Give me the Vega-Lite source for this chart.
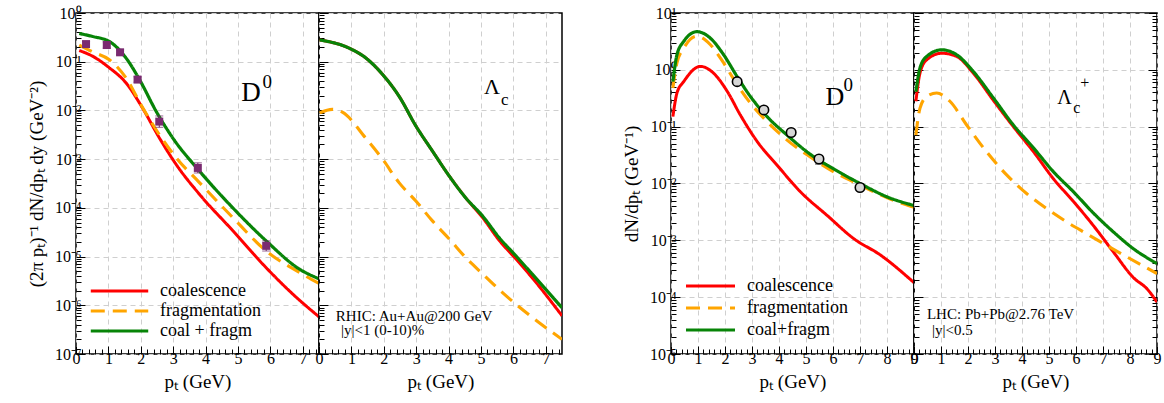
{
"$schema": "https://vega.github.io/schema/vega-lite/v6.json",
"background": "white",
"padding": {"left": 26, "top": 4, "right": 0, "bottom": 5},
"config": {
  "font": "Liberation Serif",
  "view": {"stroke": "black", "strokeWidth": 1.5},
  "axis": {"labelFont": "Liberation Serif", "titleFont": "Liberation Serif", "labelFontSize": 16, "titleFontSize": 19, "titleFontWeight": "normal", "labelColor": "black", "titleColor": "black", "tickColor": "black", "tickWidth": 1, "domain": false, "gridDash": [5, 4], "gridColor": "#cfcfcf", "gridWidth": 1, "labelOverlap": false, "labelBound": false, "labelFlush": false, "tickCount": 200},
  "legend": {"labelFont": "Liberation Serif", "labelFontSize": 18, "labelColor": "black", "symbolType": "stroke", "labelOffset": 10, "padding": 0, "orient": "bottom-left", "offset": 13, "title": null},
  "text": {"font": "Liberation Serif", "color": "black"}
},
"datasets": {
  "curves": [
    {"panel": "p1", "series": "coalescence", "pt": 0.1, "v": 0.17},
    {"panel": "p1", "series": "coalescence", "pt": 0.51, "v": 0.13},
    {"panel": "p1", "series": "coalescence", "pt": 1.03, "v": 0.075},
    {"panel": "p1", "series": "coalescence", "pt": 1.54, "v": 0.037},
    {"panel": "p1", "series": "coalescence", "pt": 2.06, "v": 0.011},
    {"panel": "p1", "series": "coalescence", "pt": 2.57, "v": 0.00275},
    {"panel": "p1", "series": "coalescence", "pt": 3.09, "v": 0.00078},
    {"panel": "p1", "series": "coalescence", "pt": 3.81, "v": 0.00019},
    {"panel": "p1", "series": "coalescence", "pt": 4.84, "v": 0.000034},
    {"panel": "p1", "series": "coalescence", "pt": 5.87, "v": 0.0000059},
    {"panel": "p1", "series": "coalescence", "pt": 6.69, "v": 0.0000017},
    {"panel": "p1", "series": "coalescence", "pt": 7.5, "v": 0.00000058},
    {"panel": "p1", "series": "fragmentation", "pt": 0.1, "v": 0.22},
    {"panel": "p1", "series": "fragmentation", "pt": 0.51, "v": 0.16},
    {"panel": "p1", "series": "fragmentation", "pt": 1.03, "v": 0.11},
    {"panel": "p1", "series": "fragmentation", "pt": 1.54, "v": 0.047},
    {"panel": "p1", "series": "fragmentation", "pt": 2.06, "v": 0.0113},
    {"panel": "p1", "series": "fragmentation", "pt": 2.57, "v": 0.0032},
    {"panel": "p1", "series": "fragmentation", "pt": 3.09, "v": 0.00107},
    {"panel": "p1", "series": "fragmentation", "pt": 3.81, "v": 0.00033},
    {"panel": "p1", "series": "fragmentation", "pt": 4.84, "v": 0.000063},
    {"panel": "p1", "series": "fragmentation", "pt": 5.87, "v": 0.000013},
    {"panel": "p1", "series": "fragmentation", "pt": 6.9, "v": 0.0000047},
    {"panel": "p1", "series": "fragmentation", "pt": 7.5, "v": 0.0000028},
    {"panel": "p1", "series": "coal+fragm", "pt": 0.1, "v": 0.38},
    {"panel": "p1", "series": "coal+fragm", "pt": 0.51, "v": 0.33},
    {"panel": "p1", "series": "coal+fragm", "pt": 1.03, "v": 0.26},
    {"panel": "p1", "series": "coal+fragm", "pt": 1.54, "v": 0.12},
    {"panel": "p1", "series": "coal+fragm", "pt": 1.96, "v": 0.043},
    {"panel": "p1", "series": "coal+fragm", "pt": 2.47, "v": 0.0097},
    {"panel": "p1", "series": "coal+fragm", "pt": 2.99, "v": 0.0027},
    {"panel": "p1", "series": "coal+fragm", "pt": 3.81, "v": 0.00057},
    {"panel": "p1", "series": "coal+fragm", "pt": 4.84, "v": 0.0001},
    {"panel": "p1", "series": "coal+fragm", "pt": 5.87, "v": 0.000021},
    {"panel": "p1", "series": "coal+fragm", "pt": 6.9, "v": 0.0000055},
    {"panel": "p1", "series": "coal+fragm", "pt": 7.5, "v": 0.0000035},

    {"panel": "p2", "series": "coalescence", "pt": 0.02, "v": 0.28},
    {"panel": "p2", "series": "coalescence", "pt": 0.93, "v": 0.19},
    {"panel": "p2", "series": "coalescence", "pt": 1.44, "v": 0.12},
    {"panel": "p2", "series": "coalescence", "pt": 1.96, "v": 0.055},
    {"panel": "p2", "series": "coalescence", "pt": 2.47, "v": 0.0196},
    {"panel": "p2", "series": "coalescence", "pt": 2.99, "v": 0.0048},
    {"panel": "p2", "series": "coalescence", "pt": 3.5, "v": 0.00147},
    {"panel": "p2", "series": "coalescence", "pt": 4.02, "v": 0.00045},
    {"panel": "p2", "series": "coalescence", "pt": 4.53, "v": 0.00016},
    {"panel": "p2", "series": "coalescence", "pt": 5.05, "v": 0.000063},
    {"panel": "p2", "series": "coalescence", "pt": 5.56, "v": 0.0000216},
    {"panel": "p2", "series": "coalescence", "pt": 6.08, "v": 0.0000089},
    {"panel": "p2", "series": "coalescence", "pt": 6.59, "v": 0.0000036},
    {"panel": "p2", "series": "coalescence", "pt": 7.5, "v": 0.00000061},
    {"panel": "p2", "series": "fragmentation", "pt": 0.02, "v": 0.0089},
    {"panel": "p2", "series": "fragmentation", "pt": 0.41, "v": 0.0105},
    {"panel": "p2", "series": "fragmentation", "pt": 0.72, "v": 0.0092},
    {"panel": "p2", "series": "fragmentation", "pt": 1.44, "v": 0.0027},
    {"panel": "p2", "series": "fragmentation", "pt": 1.96, "v": 0.001},
    {"panel": "p2", "series": "fragmentation", "pt": 2.47, "v": 0.00033},
    {"panel": "p2", "series": "fragmentation", "pt": 2.99, "v": 0.000138},
    {"panel": "p2", "series": "fragmentation", "pt": 3.5, "v": 0.000054},
    {"panel": "p2", "series": "fragmentation", "pt": 4.02, "v": 0.000023},
    {"panel": "p2", "series": "fragmentation", "pt": 4.53, "v": 0.0000095},
    {"panel": "p2", "series": "fragmentation", "pt": 5.05, "v": 0.0000044},
    {"panel": "p2", "series": "fragmentation", "pt": 5.56, "v": 0.0000021},
    {"panel": "p2", "series": "fragmentation", "pt": 6.08, "v": 0.00000105},
    {"panel": "p2", "series": "fragmentation", "pt": 6.59, "v": 0.00000056},
    {"panel": "p2", "series": "fragmentation", "pt": 7.5, "v": 0.0000002},
    {"panel": "p2", "series": "coal+fragm", "pt": 0.02, "v": 0.28},
    {"panel": "p2", "series": "coal+fragm", "pt": 0.93, "v": 0.19},
    {"panel": "p2", "series": "coal+fragm", "pt": 1.44, "v": 0.12},
    {"panel": "p2", "series": "coal+fragm", "pt": 1.96, "v": 0.055},
    {"panel": "p2", "series": "coal+fragm", "pt": 2.47, "v": 0.0196},
    {"panel": "p2", "series": "coal+fragm", "pt": 2.99, "v": 0.0048},
    {"panel": "p2", "series": "coal+fragm", "pt": 3.5, "v": 0.00147},
    {"panel": "p2", "series": "coal+fragm", "pt": 4.02, "v": 0.00045},
    {"panel": "p2", "series": "coal+fragm", "pt": 4.53, "v": 0.00016},
    {"panel": "p2", "series": "coal+fragm", "pt": 5.05, "v": 0.000068},
    {"panel": "p2", "series": "coal+fragm", "pt": 5.56, "v": 0.0000245},
    {"panel": "p2", "series": "coal+fragm", "pt": 6.08, "v": 0.0000103},
    {"panel": "p2", "series": "coal+fragm", "pt": 6.59, "v": 0.0000043},
    {"panel": "p2", "series": "coal+fragm", "pt": 7.5, "v": 0.00000089},

    {"panel": "p3", "series": "coalescence", "pt": 0.07, "v": 0.15},
    {"panel": "p3", "series": "coalescence", "pt": 0.22, "v": 0.39},
    {"panel": "p3", "series": "coalescence", "pt": 0.47, "v": 0.62},
    {"panel": "p3", "series": "coalescence", "pt": 1.09, "v": 1.15},
    {"panel": "p3", "series": "coalescence", "pt": 1.58, "v": 0.87},
    {"panel": "p3", "series": "coalescence", "pt": 2.08, "v": 0.42},
    {"panel": "p3", "series": "coalescence", "pt": 2.57, "v": 0.16},
    {"panel": "p3", "series": "coalescence", "pt": 3.19, "v": 0.055},
    {"panel": "p3", "series": "coalescence", "pt": 3.93, "v": 0.021},
    {"panel": "p3", "series": "coalescence", "pt": 4.8, "v": 0.0071},
    {"panel": "p3", "series": "coalescence", "pt": 5.78, "v": 0.00275},
    {"panel": "p3", "series": "coalescence", "pt": 6.77, "v": 0.00107},
    {"panel": "p3", "series": "coalescence", "pt": 7.76, "v": 0.00055},
    {"panel": "p3", "series": "coalescence", "pt": 9.0, "v": 0.00018},
    {"panel": "p3", "series": "fragmentation", "pt": 0.07, "v": 0.48},
    {"panel": "p3", "series": "fragmentation", "pt": 0.22, "v": 1.32},
    {"panel": "p3", "series": "fragmentation", "pt": 0.47, "v": 2.4},
    {"panel": "p3", "series": "fragmentation", "pt": 0.96, "v": 3.9},
    {"panel": "p3", "series": "fragmentation", "pt": 1.46, "v": 2.76},
    {"panel": "p3", "series": "fragmentation", "pt": 1.95, "v": 1.32},
    {"panel": "p3", "series": "fragmentation", "pt": 2.45, "v": 0.55},
    {"panel": "p3", "series": "fragmentation", "pt": 2.94, "v": 0.26},
    {"panel": "p3", "series": "fragmentation", "pt": 3.56, "v": 0.123},
    {"panel": "p3", "series": "fragmentation", "pt": 4.3, "v": 0.058},
    {"panel": "p3", "series": "fragmentation", "pt": 5.04, "v": 0.032},
    {"panel": "p3", "series": "fragmentation", "pt": 6.03, "v": 0.016},
    {"panel": "p3", "series": "fragmentation", "pt": 7.02, "v": 0.0093},
    {"panel": "p3", "series": "fragmentation", "pt": 8.01, "v": 0.0056},
    {"panel": "p3", "series": "fragmentation", "pt": 9.0, "v": 0.0038},
    {"panel": "p3", "series": "coal+fragm", "pt": 0.07, "v": 0.62},
    {"panel": "p3", "series": "coal+fragm", "pt": 0.22, "v": 1.84},
    {"panel": "p3", "series": "coal+fragm", "pt": 0.47, "v": 3.16},
    {"panel": "p3", "series": "coal+fragm", "pt": 0.96, "v": 4.7},
    {"panel": "p3", "series": "coal+fragm", "pt": 1.46, "v": 3.6},
    {"panel": "p3", "series": "coal+fragm", "pt": 1.95, "v": 1.84},
    {"panel": "p3", "series": "coal+fragm", "pt": 2.45, "v": 0.76},
    {"panel": "p3", "series": "coal+fragm", "pt": 2.94, "v": 0.34},
    {"panel": "p3", "series": "coal+fragm", "pt": 3.56, "v": 0.15},
    {"panel": "p3", "series": "coal+fragm", "pt": 4.3, "v": 0.071},
    {"panel": "p3", "series": "coal+fragm", "pt": 5.04, "v": 0.036},
    {"panel": "p3", "series": "coal+fragm", "pt": 6.03, "v": 0.018},
    {"panel": "p3", "series": "coal+fragm", "pt": 7.02, "v": 0.0099},
    {"panel": "p3", "series": "coal+fragm", "pt": 8.01, "v": 0.0058},
    {"panel": "p3", "series": "coal+fragm", "pt": 9.0, "v": 0.0041},

    {"panel": "p4", "series": "coalescence", "pt": 0.07, "v": 0.28},
    {"panel": "p4", "series": "coalescence", "pt": 0.22, "v": 0.87},
    {"panel": "p4", "series": "coalescence", "pt": 0.47, "v": 1.5},
    {"panel": "p4", "series": "coalescence", "pt": 1.03, "v": 1.96},
    {"panel": "p4", "series": "coalescence", "pt": 1.58, "v": 1.72},
    {"panel": "p4", "series": "coalescence", "pt": 2.2, "v": 0.87},
    {"panel": "p4", "series": "coalescence", "pt": 2.94, "v": 0.29},
    {"panel": "p4", "series": "coalescence", "pt": 3.68, "v": 0.1},
    {"panel": "p4", "series": "coalescence", "pt": 4.43, "v": 0.036},
    {"panel": "p4", "series": "coalescence", "pt": 5.17, "v": 0.012},
    {"panel": "p4", "series": "coalescence", "pt": 5.91, "v": 0.0048},
    {"panel": "p4", "series": "coalescence", "pt": 6.65, "v": 0.0018},
    {"panel": "p4", "series": "coalescence", "pt": 7.39, "v": 0.00062},
    {"panel": "p4", "series": "coalescence", "pt": 8.13, "v": 0.00022},
    {"panel": "p4", "series": "coalescence", "pt": 8.63, "v": 0.00014},
    {"panel": "p4", "series": "coalescence", "pt": 9.0, "v": 0.000082},
    {"panel": "p4", "series": "fragmentation", "pt": 0.07, "v": 0.071},
    {"panel": "p4", "series": "fragmentation", "pt": 0.22, "v": 0.21},
    {"panel": "p4", "series": "fragmentation", "pt": 0.47, "v": 0.34},
    {"panel": "p4", "series": "fragmentation", "pt": 0.84, "v": 0.39},
    {"panel": "p4", "series": "fragmentation", "pt": 1.33, "v": 0.28},
    {"panel": "p4", "series": "fragmentation", "pt": 1.95, "v": 0.107},
    {"panel": "p4", "series": "fragmentation", "pt": 2.69, "v": 0.036},
    {"panel": "p4", "series": "fragmentation", "pt": 3.44, "v": 0.014},
    {"panel": "p4", "series": "fragmentation", "pt": 4.18, "v": 0.0066},
    {"panel": "p4", "series": "fragmentation", "pt": 4.92, "v": 0.0036},
    {"panel": "p4", "series": "fragmentation", "pt": 5.66, "v": 0.0021},
    {"panel": "p4", "series": "fragmentation", "pt": 6.4, "v": 0.0013},
    {"panel": "p4", "series": "fragmentation", "pt": 7.14, "v": 0.00081},
    {"panel": "p4", "series": "fragmentation", "pt": 7.89, "v": 0.00051},
    {"panel": "p4", "series": "fragmentation", "pt": 9.0, "v": 0.00026},
    {"panel": "p4", "series": "coal+fragm", "pt": 0.07, "v": 0.41},
    {"panel": "p4", "series": "coal+fragm", "pt": 0.22, "v": 1.07},
    {"panel": "p4", "series": "coal+fragm", "pt": 0.47, "v": 1.72},
    {"panel": "p4", "series": "coal+fragm", "pt": 1.03, "v": 2.25},
    {"panel": "p4", "series": "coal+fragm", "pt": 1.58, "v": 1.84},
    {"panel": "p4", "series": "coal+fragm", "pt": 2.2, "v": 0.93},
    {"panel": "p4", "series": "coal+fragm", "pt": 2.94, "v": 0.32},
    {"panel": "p4", "series": "coal+fragm", "pt": 3.68, "v": 0.107},
    {"panel": "p4", "series": "coal+fragm", "pt": 4.43, "v": 0.042},
    {"panel": "p4", "series": "coal+fragm", "pt": 5.17, "v": 0.016},
    {"panel": "p4", "series": "coal+fragm", "pt": 5.91, "v": 0.0071},
    {"panel": "p4", "series": "coal+fragm", "pt": 6.65, "v": 0.003},
    {"panel": "p4", "series": "coal+fragm", "pt": 7.39, "v": 0.0014},
    {"panel": "p4", "series": "coal+fragm", "pt": 8.13, "v": 0.00071},
    {"panel": "p4", "series": "coal+fragm", "pt": 9.0, "v": 0.00039}
  ],
  "points": [
    {"panel": "p1", "pt": 0.31, "v": 0.23, "lo": 0.2, "hi": 0.26},
    {"panel": "p1", "pt": 0.95, "v": 0.22, "lo": 0.19, "hi": 0.255},
    {"panel": "p1", "pt": 1.36, "v": 0.156, "lo": 0.14, "hi": 0.175},
    {"panel": "p1", "pt": 1.9, "v": 0.043, "lo": 0.038, "hi": 0.049},
    {"panel": "p1", "pt": 2.57, "v": 0.0059, "lo": 0.0045, "hi": 0.0077},
    {"panel": "p1", "pt": 3.76, "v": 0.00066, "lo": 0.00052, "hi": 0.00084},
    {"panel": "p1", "pt": 5.87, "v": 0.0000166, "lo": 0.000013, "hi": 0.000021},
    {"panel": "p3", "pt": 2.45, "v": 0.62, "lo": 0.6, "hi": 0.64},
    {"panel": "p3", "pt": 3.44, "v": 0.197, "lo": 0.19, "hi": 0.205},
    {"panel": "p3", "pt": 4.45, "v": 0.079, "lo": 0.076, "hi": 0.082},
    {"panel": "p3", "pt": 5.48, "v": 0.027, "lo": 0.022, "hi": 0.028},
    {"panel": "p3", "pt": 7.0, "v": 0.0085, "lo": 0.0083, "hi": 0.0087}
  ],
  "glyphs": [
    {"panel": "p1", "pt": 5.1, "v": 0.0155, "text": "D"},
    {"panel": "p2", "pt": 5.09, "v": 0.0218, "text": "Λ"},
    {"panel": "p3", "pt": 5.72, "v": 0.24, "text": "D"},
    {"panel": "p4", "pt": 5.31, "v": 0.248, "text": "Λ"}
  ],
  "scripts": [
    {"panel": "p1", "pt": 5.76, "v": 0.029, "text": "0"},
    {"panel": "p2", "pt": 5.62, "v": 0.0129, "text": "c"},
    {"panel": "p3", "pt": 6.39, "v": 0.42, "text": "0"},
    {"panel": "p4", "pt": 5.9, "v": 0.172, "text": "c"},
    {"panel": "p4", "pt": 6.16, "v": 0.48, "text": "+"}
  ],
  "notes": [
    {"panel": "p2", "pt": 0.52, "v": 0.00000048, "text": "RHIC: Au+Au@200 GeV"},
    {"panel": "p2", "pt": 0.68, "v": 0.000000245, "text": "|y|<1 (0-10)%"},
    {"panel": "p4", "pt": 0.48, "v": 0.000042, "text": "LHC: Pb+Pb@2.76 TeV"},
    {"panel": "p4", "pt": 0.67, "v": 0.000022, "text": "|y|<0.5"}
  ]
},
"resolve": {"scale": {"x": "independent", "y": "independent", "color": "independent", "strokeDash": "independent", "strokeWidth": "independent"}, "legend": {"color": "independent", "strokeDash": "independent", "strokeWidth": "independent"}},
"spacing": 58,
"hconcat": [
 {
  "spacing": 0,
  "bounds": "flush",
  "resolve": {"scale": {"x": "independent", "y": "independent", "color": "independent", "strokeDash": "independent", "strokeWidth": "independent"}, "legend": {"color": "independent", "strokeDash": "independent", "strokeWidth": "independent"}},
  "hconcat": [
   {
    "width": 243, "height": 341,
    "layer": [
     {"data": {"name": "curves"}, "transform": [{"filter": "datum.panel == 'p1'"}],
      "mark": {"type": "line", "clip": true, "interpolate": "monotone"},
      "encoding": {
       "x": {"field": "pt", "type": "quantitative", "scale": {"domain": [0, 7.5], "nice": false, "zero": false},
             "axis": {"title": "pₜ (GeV)", "titlePadding": 3, "labelOverlap": false, "tickCount": 200, "values": [0,0.2,0.4,0.6,0.8,1,1.2,1.4,1.6,1.8,2,2.2,2.4,2.6,2.8,3,3.2,3.4,3.6,3.8,4,4.2,4.4,4.6,4.8,5,5.2,5.4,5.6,5.8,6,6.2,6.4,6.6,6.8,7,7.2,7.4],
                      "labelExpr": "abs(datum.value - round(datum.value)) < 0.01 ? format(round(datum.value), 'd') : ''",
                      "grid": true, "gridOpacity": {"condition": {"test": "abs(datum.value - round(datum.value)) < 0.01", "value": 1}, "value": 0},
                      "tickSize": {"condition": {"test": "abs(datum.value - round(datum.value)) < 0.01", "value": -8}, "value": -5}, "labelPadding": 4}},
       "y": {"field": "v", "type": "quantitative", "scale": {"type": "log", "domain": [1e-7, 1], "nice": false},
             "axis": {"title": "(2π pₜ)⁻¹ dN/dpₜ dy (GeV⁻²)", "titlePadding": 8, "labelOverlap": false, "tickCount": 200,
                      "values": [1e-7,2e-7,3e-7,4e-7,5e-7,6e-7,7e-7,8e-7,9e-7,1e-6,2e-6,3e-6,4e-6,5e-6,6e-6,7e-6,8e-6,9e-6,1e-5,2e-5,3e-5,4e-5,5e-5,6e-5,7e-5,8e-5,9e-5,1e-4,2e-4,3e-4,4e-4,5e-4,6e-4,7e-4,8e-4,9e-4,1e-3,2e-3,3e-3,4e-3,5e-3,6e-3,7e-3,8e-3,9e-3,0.01,0.02,0.03,0.04,0.05,0.06,0.07,0.08,0.09,0.1,0.2,0.3,0.4,0.5,0.6,0.7,0.8,0.9,1],
                      "labelExpr": "abs(log(datum.value)/LN10 - round(log(datum.value)/LN10)) < 0.001 ? '10' + ['⁻⁷','⁻⁶','⁻⁵','⁻⁴','⁻³','⁻²','⁻¹','⁰','¹'][round(log(datum.value)/LN10) + 7] : ''",
                      "grid": true, "gridOpacity": {"condition": {"test": "abs(log(datum.value)/LN10 - round(log(datum.value)/LN10)) < 0.001", "value": 1}, "value": 0},
                      "tickSize": {"condition": {"test": "abs(log(datum.value)/LN10 - round(log(datum.value)/LN10)) < 0.001", "value": -9}, "value": -5}, "labelPadding": 4}},
       "color": {"field": "series", "type": "nominal", "scale": {"domain": ["coalescence", "fragmentation", "coal+fragm"], "range": ["#ff0000", "#ffa500", "#078407"]},
                 "legend": {"labelExpr": "datum.label == 'coal+fragm' ? 'coal + fragm' : datum.label", "symbolSize": 3300, "clipHeight": 20, "rowPadding": 0, "labelFont": "Liberation Serif", "labelFontSize": 18,
                            "encode": {"symbols": {"update": {"strokeDash": {"signal": "datum.value == 'fragmentation' ? [14, 8] : [1, 0]"}, "strokeWidth": {"signal": "datum.value == 'coal+fragm' ? 5.5 : 3"}}}}}},
       "strokeDash": {"field": "series", "type": "nominal", "scale": {"domain": ["coalescence", "fragmentation", "coal+fragm"], "range": [[1, 0], [14, 8], [1, 0]]}, "legend": null},
       "strokeWidth": {"field": "series", "type": "nominal", "scale": {"domain": ["coalescence", "fragmentation", "coal+fragm"], "range": [3, 3.2, 5.5]}, "legend": null}
      }},
     {"data": {"name": "points"}, "transform": [{"filter": "datum.panel == 'p1'"}],
      "mark": {"type": "errorbar", "ticks": {"size": 8, "color": "#6e2366"}, "color": "#6e2366"},
      "encoding": {"x": {"field": "pt", "type": "quantitative", "title": "pₜ (GeV)"}, "y": {"field": "lo", "type": "quantitative", "title": "(2π pₜ)⁻¹ dN/dpₜ dy (GeV⁻²)"}, "y2": {"field": "hi"}}},
     {"data": {"name": "points"}, "transform": [{"filter": "datum.panel == 'p1'"}],
      "mark": {"type": "square", "size": 64, "filled": true, "color": "#7a2a70", "opacity": 1},
      "encoding": {"x": {"field": "pt", "type": "quantitative", "title": "pₜ (GeV)"}, "y": {"field": "v", "type": "quantitative", "title": "(2π pₜ)⁻¹ dN/dpₜ dy (GeV⁻²)"}}},
     {"data": {"name": "glyphs"}, "transform": [{"filter": "datum.panel == 'p1'"}],
      "mark": {"type": "text", "fontSize": 27, "align": "left", "baseline": "alphabetic"},
      "encoding": {"x": {"field": "pt", "type": "quantitative", "title": "pₜ (GeV)"}, "y": {"field": "v", "type": "quantitative", "title": "(2π pₜ)⁻¹ dN/dpₜ dy (GeV⁻²)"}, "text": {"field": "text"}}},
     {"data": {"name": "scripts"}, "transform": [{"filter": "datum.panel == 'p1'"}],
      "mark": {"type": "text", "fontSize": 19, "align": "left", "baseline": "alphabetic"},
      "encoding": {"x": {"field": "pt", "type": "quantitative", "title": "pₜ (GeV)"}, "y": {"field": "v", "type": "quantitative", "title": "(2π pₜ)⁻¹ dN/dpₜ dy (GeV⁻²)"}, "text": {"field": "text"}}}
    ]
   },
   {
    "width": 243, "height": 341,
    "layer": [
     {"data": {"name": "curves"}, "transform": [{"filter": "datum.panel == 'p2'"}],
      "mark": {"type": "line", "clip": true, "interpolate": "monotone"},
      "encoding": {
       "x": {"field": "pt", "type": "quantitative", "title": "pₜ (GeV)", "scale": {"domain": [0, 7.5], "nice": false, "zero": false},
             "axis": {"titlePadding": 3, "labelOverlap": false, "tickCount": 200, "values": [0,0.2,0.4,0.6,0.8,1,1.2,1.4,1.6,1.8,2,2.2,2.4,2.6,2.8,3,3.2,3.4,3.6,3.8,4,4.2,4.4,4.6,4.8,5,5.2,5.4,5.6,5.8,6,6.2,6.4,6.6,6.8,7,7.2,7.4],
                      "labelExpr": "abs(datum.value - round(datum.value)) < 0.01 ? format(round(datum.value), 'd') : ''",
                      "grid": true, "gridOpacity": {"condition": {"test": "abs(datum.value - round(datum.value)) < 0.01", "value": 1}, "value": 0},
                      "tickSize": {"condition": {"test": "abs(datum.value - round(datum.value)) < 0.01", "value": -8}, "value": -5}, "labelPadding": 4}},
       "y": {"field": "v", "type": "quantitative", "scale": {"type": "log", "domain": [1e-7, 1], "nice": false},
             "axis": {"title": null, "labels": false, "tickCount": 200,
                      "values": [1e-7,2e-7,3e-7,4e-7,5e-7,6e-7,7e-7,8e-7,9e-7,1e-6,2e-6,3e-6,4e-6,5e-6,6e-6,7e-6,8e-6,9e-6,1e-5,2e-5,3e-5,4e-5,5e-5,6e-5,7e-5,8e-5,9e-5,1e-4,2e-4,3e-4,4e-4,5e-4,6e-4,7e-4,8e-4,9e-4,1e-3,2e-3,3e-3,4e-3,5e-3,6e-3,7e-3,8e-3,9e-3,0.01,0.02,0.03,0.04,0.05,0.06,0.07,0.08,0.09,0.1,0.2,0.3,0.4,0.5,0.6,0.7,0.8,0.9,1],
                      "grid": true, "gridOpacity": {"condition": {"test": "abs(log(datum.value)/LN10 - round(log(datum.value)/LN10)) < 0.001", "value": 1}, "value": 0},
                      "tickSize": {"condition": {"test": "abs(log(datum.value)/LN10 - round(log(datum.value)/LN10)) < 0.001", "value": -9}, "value": -5}}},
       "color": {"field": "series", "type": "nominal", "scale": {"domain": ["coalescence", "fragmentation", "coal+fragm"], "range": ["#ff0000", "#ffa500", "#078407"]}, "legend": null},
       "strokeDash": {"field": "series", "type": "nominal", "scale": {"domain": ["coalescence", "fragmentation", "coal+fragm"], "range": [[1, 0], [14, 8], [1, 0]]}, "legend": null},
       "strokeWidth": {"field": "series", "type": "nominal", "scale": {"domain": ["coalescence", "fragmentation", "coal+fragm"], "range": [3, 3.2, 5.5]}, "legend": null}
      }},
     {"data": {"name": "glyphs"}, "transform": [{"filter": "datum.panel == 'p2'"}],
      "mark": {"type": "text", "fontSize": 22, "align": "left", "baseline": "alphabetic"},
      "encoding": {"x": {"field": "pt", "type": "quantitative", "title": "pₜ (GeV)"}, "y": {"field": "v", "type": "quantitative"}, "text": {"field": "text"}}},
     {"data": {"name": "scripts"}, "transform": [{"filter": "datum.panel == 'p2'"}],
      "mark": {"type": "text", "fontSize": 17, "align": "left", "baseline": "alphabetic"},
      "encoding": {"x": {"field": "pt", "type": "quantitative", "title": "pₜ (GeV)"}, "y": {"field": "v", "type": "quantitative"}, "text": {"field": "text"}}},
     {"data": {"name": "notes"}, "transform": [{"filter": "datum.panel == 'p2'"}],
      "mark": {"type": "text", "fontSize": 15, "align": "left", "baseline": "alphabetic"},
      "encoding": {"x": {"field": "pt", "type": "quantitative", "title": "pₜ (GeV)"}, "y": {"field": "v", "type": "quantitative"}, "text": {"field": "text"}}}
    ]
   }
  ]
 },
 {
  "spacing": 0,
  "bounds": "flush",
  "resolve": {"scale": {"x": "independent", "y": "independent", "color": "independent", "strokeDash": "independent", "strokeWidth": "independent"}, "legend": {"color": "independent", "strokeDash": "independent", "strokeWidth": "independent"}},
  "hconcat": [
   {
    "width": 243, "height": 341,
    "layer": [
     {"data": {"name": "curves"}, "transform": [{"filter": "datum.panel == 'p3'"}],
      "mark": {"type": "line", "clip": true, "interpolate": "monotone"},
      "encoding": {
       "x": {"field": "pt", "type": "quantitative", "title": "pₜ (GeV)", "scale": {"domain": [0, 9], "nice": false, "zero": false},
             "axis": {"titlePadding": 3, "labelOverlap": false, "tickCount": 200, "values": [0,0.2,0.4,0.6,0.8,1,1.2,1.4,1.6,1.8,2,2.2,2.4,2.6,2.8,3,3.2,3.4,3.6,3.8,4,4.2,4.4,4.6,4.8,5,5.2,5.4,5.6,5.8,6,6.2,6.4,6.6,6.8,7,7.2,7.4,7.6,7.8,8,8.2,8.4,8.6,8.8,9],
                      "labelExpr": "abs(datum.value - round(datum.value)) < 0.01 ? format(round(datum.value), 'd') : ''",
                      "grid": true, "gridOpacity": {"condition": {"test": "abs(datum.value - round(datum.value)) < 0.01", "value": 1}, "value": 0},
                      "tickSize": {"condition": {"test": "abs(datum.value - round(datum.value)) < 0.01", "value": -8}, "value": -5}, "labelPadding": 4}},
       "y": {"field": "v", "type": "quantitative", "title": "dN/dpₜ (GeV⁻¹)", "scale": {"type": "log", "domain": [1e-5, 10], "nice": false},
             "axis": {"titlePadding": 8, "labelOverlap": false, "tickCount": 200,
                      "values": [1e-5,2e-5,3e-5,4e-5,5e-5,6e-5,7e-5,8e-5,9e-5,1e-4,2e-4,3e-4,4e-4,5e-4,6e-4,7e-4,8e-4,9e-4,1e-3,2e-3,3e-3,4e-3,5e-3,6e-3,7e-3,8e-3,9e-3,0.01,0.02,0.03,0.04,0.05,0.06,0.07,0.08,0.09,0.1,0.2,0.3,0.4,0.5,0.6,0.7,0.8,0.9,1,2,3,4,5,6,7,8,9,10],
                      "labelExpr": "abs(log(datum.value)/LN10 - round(log(datum.value)/LN10)) < 0.001 ? '10' + ['⁻⁷','⁻⁶','⁻⁵','⁻⁴','⁻³','⁻²','⁻¹','⁰','¹'][round(log(datum.value)/LN10) + 7] : ''",
                      "grid": true, "gridOpacity": {"condition": {"test": "abs(log(datum.value)/LN10 - round(log(datum.value)/LN10)) < 0.001", "value": 1}, "value": 0},
                      "tickSize": {"condition": {"test": "abs(log(datum.value)/LN10 - round(log(datum.value)/LN10)) < 0.001", "value": -9}, "value": -5}, "labelPadding": 4}},
       "color": {"field": "series", "type": "nominal", "scale": {"domain": ["coalescence", "fragmentation", "coal+fragm"], "range": ["#ff0000", "#ffa500", "#078407"]},
                 "legend": {"symbolSize": 2400, "clipHeight": 22, "rowPadding": 0, "labelFont": "Liberation Serif", "labelFontSize": 18,
                            "encode": {"symbols": {"update": {"strokeDash": {"signal": "datum.value == 'fragmentation' ? [14, 8] : [1, 0]"}, "strokeWidth": {"signal": "datum.value == 'coal+fragm' ? 5.5 : 3"}}}}}},
       "strokeDash": {"field": "series", "type": "nominal", "scale": {"domain": ["coalescence", "fragmentation", "coal+fragm"], "range": [[1, 0], [14, 8], [1, 0]]}, "legend": null},
       "strokeWidth": {"field": "series", "type": "nominal", "scale": {"domain": ["coalescence", "fragmentation", "coal+fragm"], "range": [3, 3.2, 5.5]}, "legend": null}
      }},
     {"data": {"name": "points"}, "transform": [{"filter": "datum.panel == 'p3'"}],
      "mark": {"type": "errorbar", "ticks": {"size": 8, "color": "black"}, "color": "black"},
      "encoding": {"x": {"field": "pt", "type": "quantitative", "title": "pₜ (GeV)"}, "y": {"field": "lo", "type": "quantitative", "title": "dN/dpₜ (GeV⁻¹)"}, "y2": {"field": "hi"}}},
     {"data": {"name": "points"}, "transform": [{"filter": "datum.panel == 'p3'"}],
      "mark": {"type": "point", "shape": "circle", "size": 90, "filled": false, "fill": "#d6d6d6", "fillOpacity": 1, "stroke": "black", "strokeWidth": 1.6, "opacity": 1},
      "encoding": {"x": {"field": "pt", "type": "quantitative", "title": "pₜ (GeV)"}, "y": {"field": "v", "type": "quantitative", "title": "dN/dpₜ (GeV⁻¹)"}}},
     {"data": {"name": "glyphs"}, "transform": [{"filter": "datum.panel == 'p3'"}],
      "mark": {"type": "text", "fontSize": 26, "align": "left", "baseline": "alphabetic"},
      "encoding": {"x": {"field": "pt", "type": "quantitative", "title": "pₜ (GeV)"}, "y": {"field": "v", "type": "quantitative", "title": "dN/dpₜ (GeV⁻¹)"}, "text": {"field": "text"}}},
     {"data": {"name": "scripts"}, "transform": [{"filter": "datum.panel == 'p3'"}],
      "mark": {"type": "text", "fontSize": 19, "align": "left", "baseline": "alphabetic"},
      "encoding": {"x": {"field": "pt", "type": "quantitative", "title": "pₜ (GeV)"}, "y": {"field": "v", "type": "quantitative", "title": "dN/dpₜ (GeV⁻¹)"}, "text": {"field": "text"}}}
    ]
   },
   {
    "width": 243, "height": 341,
    "resolve": {"axis": {"y": "independent"}},
    "layer": [
     {"data": {"name": "curves"}, "transform": [{"filter": "datum.panel == 'p4'"}],
      "mark": {"type": "line", "clip": true, "interpolate": "monotone"},
      "encoding": {
       "x": {"field": "pt", "type": "quantitative", "title": "pₜ (GeV)", "scale": {"domain": [0, 9], "nice": false, "zero": false},
             "axis": {"titlePadding": 3, "labelOverlap": false, "tickCount": 200, "values": [0,0.2,0.4,0.6,0.8,1,1.2,1.4,1.6,1.8,2,2.2,2.4,2.6,2.8,3,3.2,3.4,3.6,3.8,4,4.2,4.4,4.6,4.8,5,5.2,5.4,5.6,5.8,6,6.2,6.4,6.6,6.8,7,7.2,7.4,7.6,7.8,8,8.2,8.4,8.6,8.8,9],
                      "labelExpr": "abs(datum.value - round(datum.value)) < 0.01 ? format(round(datum.value), 'd') : ''",
                      "grid": true, "gridOpacity": {"condition": {"test": "abs(datum.value - round(datum.value)) < 0.01", "value": 1}, "value": 0},
                      "tickSize": {"condition": {"test": "abs(datum.value - round(datum.value)) < 0.01", "value": -8}, "value": -5}, "labelPadding": 4}},
       "y": {"field": "v", "type": "quantitative", "scale": {"type": "log", "domain": [1e-5, 10], "nice": false},
             "axis": {"title": null, "labels": false, "orient": "left", "tickCount": 200,
                      "values": [1e-5,2e-5,3e-5,4e-5,5e-5,6e-5,7e-5,8e-5,9e-5,1e-4,2e-4,3e-4,4e-4,5e-4,6e-4,7e-4,8e-4,9e-4,1e-3,2e-3,3e-3,4e-3,5e-3,6e-3,7e-3,8e-3,9e-3,0.01,0.02,0.03,0.04,0.05,0.06,0.07,0.08,0.09,0.1,0.2,0.3,0.4,0.5,0.6,0.7,0.8,0.9,1,2,3,4,5,6,7,8,9,10],
                      "grid": true, "gridOpacity": {"condition": {"test": "abs(log(datum.value)/LN10 - round(log(datum.value)/LN10)) < 0.001", "value": 1}, "value": 0},
                      "tickSize": {"condition": {"test": "abs(log(datum.value)/LN10 - round(log(datum.value)/LN10)) < 0.001", "value": -9}, "value": -5}}},
       "color": {"field": "series", "type": "nominal", "scale": {"domain": ["coalescence", "fragmentation", "coal+fragm"], "range": ["#ff0000", "#ffa500", "#078407"]}, "legend": null},
       "strokeDash": {"field": "series", "type": "nominal", "scale": {"domain": ["coalescence", "fragmentation", "coal+fragm"], "range": [[1, 0], [14, 8], [1, 0]]}, "legend": null},
       "strokeWidth": {"field": "series", "type": "nominal", "scale": {"domain": ["coalescence", "fragmentation", "coal+fragm"], "range": [3, 3.2, 5.5]}, "legend": null}
      }},
     {"data": {"name": "glyphs"}, "transform": [{"filter": "datum.panel == 'p4'"}],
      "mark": {"type": "text", "fontSize": 20, "align": "left", "baseline": "alphabetic"},
      "encoding": {"x": {"field": "pt", "type": "quantitative", "title": "pₜ (GeV)"}, "y": {"field": "v", "type": "quantitative", "axis": null}, "text": {"field": "text"}}},
     {"data": {"name": "scripts"}, "transform": [{"filter": "datum.panel == 'p4'"}],
      "mark": {"type": "text", "fontSize": 16, "align": "left", "baseline": "alphabetic"},
      "encoding": {"x": {"field": "pt", "type": "quantitative", "title": "pₜ (GeV)"}, "y": {"field": "v", "type": "quantitative", "axis": null}, "text": {"field": "text"}}},
     {"data": {"name": "notes"}, "transform": [{"filter": "datum.panel == 'p4'"}],
      "mark": {"type": "text", "fontSize": 15, "align": "left", "baseline": "alphabetic"},
      "encoding": {"x": {"field": "pt", "type": "quantitative", "title": "pₜ (GeV)"},
                   "y": {"field": "v", "type": "quantitative",
                         "axis": {"orient": "right", "title": null, "labels": false, "grid": false, "tickCount": 200,
                                  "values": [1e-5,2e-5,3e-5,4e-5,5e-5,6e-5,7e-5,8e-5,9e-5,1e-4,2e-4,3e-4,4e-4,5e-4,6e-4,7e-4,8e-4,9e-4,1e-3,2e-3,3e-3,4e-3,5e-3,6e-3,7e-3,8e-3,9e-3,0.01,0.02,0.03,0.04,0.05,0.06,0.07,0.08,0.09,0.1,0.2,0.3,0.4,0.5,0.6,0.7,0.8,0.9,1,2,3,4,5,6,7,8,9,10],
                                  "tickSize": {"condition": {"test": "abs(log(datum.value)/LN10 - round(log(datum.value)/LN10)) < 0.001", "value": -9}, "value": -5}}},
                   "text": {"field": "text"}}}
    ]
   }
  ]
 }
]
}
